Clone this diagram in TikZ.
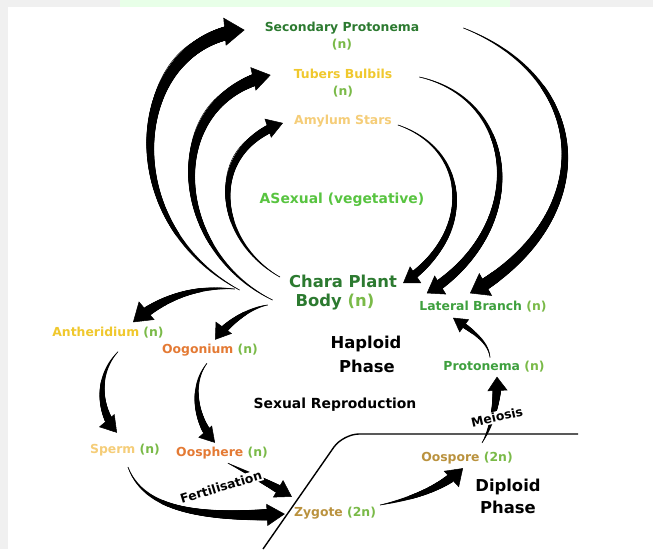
\documentclass[tikz,border=0pt]{standalone}
\usepackage{fontspec}
\setmainfont{DejaVu Sans}
\usepackage{tikz}
\usetikzlibrary{arrows.meta,decorations.markings}

\definecolor{dkgreen}{RGB}{44,122,48}
\definecolor{ngreen}{RGB}{122,186,72}
\definecolor{brgreen}{RGB}{88,196,64}
\definecolor{lgreen}{RGB}{62,160,62}
\definecolor{gold}{RGB}{240,200,45}
\definecolor{pale}{RGB}{245,205,120}
\definecolor{orng}{RGB}{228,122,52}
\definecolor{tan}{RGB}{186,146,62}

\tikzset{
  swoosh/.style n args={3}{
    line width=0.5pt, -{Triangle[width=#2pt,length=#3pt]},
    postaction={decorate},
    decoration={markings,
      mark=between positions 0 and -#3pt step 0.6pt with {
        \pgfmathsetmacro\swr{0.3+0.5*#1*\pgfkeysvalueof{/pgf/decoration/mark info/distance from start}/\pgfdecoratedpathlength}
        \fill (0,0) circle[radius=\swr pt];}}}
}

\begin{document}
\begin{tikzpicture}[x=1pt,y=-1pt,
  every node/.style={font=\bfseries\fontsize{12.4}{15}\selectfont, inner sep=2pt},
  big/.style={font=\bfseries\fontsize{16.4}{19}\selectfont},
  mid/.style={font=\bfseries\fontsize{13.9}{17}\selectfont}]
\useasboundingbox (0,0) rectangle (653,549);
\fill[black!6] (0,0) rectangle (653,549);
\fill[green!9] (120,0) rectangle (510,7);
\fill[white] (8,7) rectangle (653,549);

\node[dkgreen] (sec) at (342,28) {Secondary Protonema};
\node[ngreen] (secn) at (342,45) {(n)};
\node[gold] (tub) at (343,74) {Tubers Bulbils};
\node[ngreen] (tubn) at (343,92) {(n)};
\node[pale] (amy) at (343,121) {Amylum Stars};
\node[brgreen, mid] (asex) at (342,200) {ASexual (vegetative)};
\node[dkgreen, big] (chara) at (343,281) {Chara Plant};
\node[dkgreen, big] (body) at (335,302) {Body {\color{ngreen}(n)}};
\node[lgreen] (lat) at (483,307) {Lateral Branch {\color{ngreen}(n)}};
\node[gold] (anth) at (108,333) {Antheridium {\color{ngreen}(n)}};
\node[orng] (oog) at (210,350) {Oogonium {\color{ngreen}(n)}};
\node[big] (hap) at (366,344) {Haploid};
\node[big] (haph) at (367,366) {Phase};
\node[lgreen] (proto) at (494,367) {Protonema {\color{ngreen}(n)}};
\node[mid] (sexrep) at (335,405) {Sexual Reproduction};
\node[pale] (sperm) at (125,450) {Sperm {\color{ngreen}(n)}};
\node[orng] (oosph) at (222,453) {Oosphere {\color{ngreen}(n)}};
\node[tan] (oosp) at (467,458) {Oospore {\color{ngreen}(2n)}};
\node[big] (dip) at (508,487) {Diploid};
\node[big] (diph) at (508,507) {Phase};
\node[tan] (zyg) at (335,513) {Zygote {\color{ngreen}(2n)}};

\draw[swoosh={14}{28}{20}] ([shift={(-54,-12)}]body.west) .. controls (110,220) and (130,40) .. ([shift={(-18,2)}]sec.west);
\draw[swoosh={12}{24}{18}] ([shift={(-21,-2)}]body.west) .. controls (170,250) and (160,100) .. ([shift={(-21,1)}]tub.west);
\draw[swoosh={9}{20}{16}] ([shift={(-7,-4)}]chara.west) .. controls (215,240) and (205,150) .. ([shift={(-9,2)}]amy.west);
\draw[swoosh={8}{20}{15}] ([shift={(4,4)}]amy.east) .. controls (470,150) and (475,235) .. ([shift={(4,2)}]chara.east);
\draw[swoosh={10}{22}{16}] ([shift={(25,3)}]tub.east) .. controls (520,100) and (530,230) .. ([shift={(9.5,-6)}]lat.north west);
\draw[swoosh={12}{26}{18}] ([shift={(42,0)}]sec.east) .. controls (595,80) and (600,220) .. ([shift={(-13,-6)}]lat.north);

\draw[swoosh={11}{24}{18}] ([shift={(-59,-13)}]body.west) .. controls (200,286) and (165,295) .. ([shift={(25,-3)}]anth.north);
\draw[swoosh={9}{20}{15}] ([shift={(-26,3)}]body.west) .. controls (250,308) and (228,322) .. ([shift={(5,-2)}]oog.north);
\draw[swoosh={9}{20}{16}] ([shift={(10,11)}]anth.south) .. controls (96,375) and (98,410) .. ([shift={(-8,-9)}]sperm.north);
\draw[swoosh={9}{18}{15}] ([shift={(-3,5)}]oog.south) .. controls (190,385) and (195,420) .. ([shift={(-7,-2)}]oosph.north);
\draw[swoosh={12}{22}{18}] ([shift={(3,9)}]sperm.south) .. controls (145,512) and (205,518) .. ([shift={(-7,1)}]zyg.west);
\draw[swoosh={10}{20}{16}] ([shift={(6,2)}]oosph.south) .. controls (248,473) and (270,484) .. ([shift={(0,-8)}]zyg.north west);
\draw[swoosh={10}{22}{16}] ([shift={(2,-8)}]zyg.east) .. controls (420,497) and (445,485) .. ([shift={(-4,2)}]oosp.south);
\draw[swoosh={10}{20}{14}] ([shift={(15,-7)}]oosp.north) .. controls (490,430) and (498,405) .. ([shift={(3,2)}]proto.south);
\draw[swoosh={6}{16}{14}] ([shift={(-4,-2)}]proto.north) .. controls (488,340) and (470,330) .. ([shift={(-30,3)}]lat.south);

\draw[line width=1.4pt, rounded corners=16pt] (263,549) -- (343,434) -- (578,434);

\node[fill=white, inner sep=1pt, rotate=17] (fert) at (221,487) {Fertilisation};
\node[fill=white, inner sep=1pt, rotate=13] (meio) at (497,417) {Meiosis};
\end{tikzpicture}
\end{document}
